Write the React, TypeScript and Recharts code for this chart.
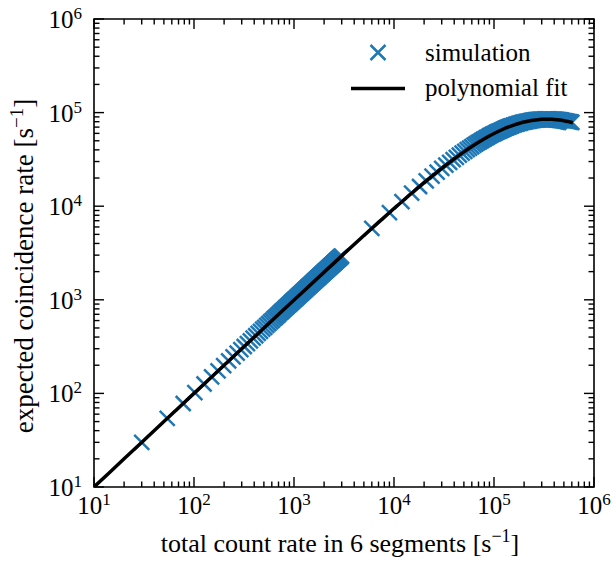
import React from "react";
import { ComposedChart, Scatter, XAxis, YAxis, ReferenceArea } from "recharts";

// simulated points, low-rate run (total rate, coincidences per second)
const simLowX = [
  30, 54, 78, 102, 126, 150, 174, 198, 222, 246, 270, 294, 318, 342, 366, 390, 414, 438, 462, 486,
  510, 534, 558, 582, 606, 630, 654, 678, 702, 726, 750, 774, 798, 822, 846, 870, 894, 918, 942, 966,
  990, 1014, 1038, 1062, 1086, 1110, 1134, 1158, 1182, 1206, 1230, 1254, 1278, 1302, 1326, 1350, 1374,
  1398, 1422, 1446, 1470, 1494, 1518, 1542, 1566, 1590, 1614, 1638, 1662, 1686, 1710, 1734, 1758, 1782,
  1806, 1830, 1854, 1878, 1902, 1926, 1950, 1974, 1998, 2022, 2046, 2070, 2094, 2118, 2142, 2166, 2190,
  2214, 2238, 2262, 2286, 2310, 2334, 2358, 2382, 2406, 2430, 2454, 2478, 2502, 2526, 2550, 2574, 2598,
  2622, 2646, 2670, 2694, 2718, 2742, 2766, 2790, 2814, 2838, 2862, 2886, 2910, 2934, 2958, 2982,
];
const simLowY = [
  30, 54, 78, 102, 126, 150, 174, 198, 222, 246, 270, 293, 317, 341, 365, 389, 413, 437, 461, 485,
  508, 532, 556, 580, 604, 628, 651, 675, 699, 723, 747, 770, 794, 818, 842, 866, 889, 913, 937, 961,
  984, 1008, 1032, 1055, 1079, 1103, 1126, 1150, 1174, 1197, 1221, 1245, 1268, 1292, 1316, 1339, 1363,
  1387, 1410, 1434, 1457, 1481, 1504, 1528, 1552, 1575, 1599, 1622, 1646, 1669, 1693, 1716, 1740, 1763,
  1787, 1810, 1834, 1857, 1881, 1904, 1928, 1951, 1975, 1998, 2021, 2045, 2068, 2092, 2115, 2138, 2162,
  2185, 2209, 2232, 2255, 2279, 2302, 2325, 2349, 2372, 2395, 2419, 2442, 2465, 2488, 2512, 2535, 2558,
  2582, 2605, 2628, 2651, 2675, 2698, 2721, 2744, 2767, 2791, 2814, 2837, 2860, 2883, 2907, 2930,
];

// simulated points, high-rate run
const simHighX = [
  6000, 9000, 12000, 15000, 18000, 21000, 24000, 27000, 30000, 33000, 36000, 39000, 42000, 45000,
  48000, 51000, 54000, 57000, 60000, 63000, 66000, 69000, 72000, 75000, 78000, 81000, 84000, 87000,
  90000, 93000, 96000, 99000, 102000, 105000, 108000, 111000, 114000, 117000, 120000, 123000, 126000,
  129000, 132000, 135000, 138000, 141000, 144000, 147000, 150000,
  156000, 162000, 168000, 174000, 180000, 186000, 192000, 198000, 204000, 210000, 216000, 222000,
  228000, 234000, 240000, 246000, 252000, 258000, 264000, 270000, 276000, 282000, 288000, 294000,
  300000, 306000, 312000, 318000, 324000, 330000, 336000, 342000, 348000, 354000, 360000, 366000,
  372000, 378000, 384000, 390000, 396000, 402000, 408000, 414000, 420000, 426000, 432000, 438000,
  444000, 450000, 456000, 462000, 468000, 474000, 480000,
  492000, 504000, 516000, 528000, 540000, 552000, 564000, 576000, 588000, 600000,
];
const simHighY = [
  5794, 8542, 11196, 13759, 16235, 18628, 20940, 23174, 25332, 27419, 29436, 31387, 33272, 35095,
  36858, 38563, 40212, 41807, 43350, 44843, 46286, 47682, 49034, 50341, 51606, 52830, 54014, 55160,
  56268, 57341, 58379, 59383, 60355, 61296, 62205, 63086, 63937, 64761, 65558, 66328, 67075,
  67796, 68493, 69168, 69820, 70451, 71061, 71650, 72220,
  73302, 74313, 75256, 76135, 76952, 77714, 78422, 79078, 79688, 80251, 80772, 81253,
  81695, 82101, 82473, 82813, 83122, 83402, 83655, 83880, 84082, 84261, 84417, 84553,
  84668, 84765, 84843, 84906, 84950, 84982, 84997, 84998, 84988, 84965, 84931, 84885,
  84829, 84763, 84687, 84602, 84507, 84407, 84298, 84182, 84058, 83928, 83793, 83651,
  83504, 83352, 83195, 83033, 82867, 82697, 82523,
  82163, 81791, 81407, 81013, 80610, 80199, 79781, 79358, 78930, 78497,
];

// polynomial fit curve
const fitX = [
  10, 20, 50, 100, 200, 500, 1000, 2000, 3000, 5000, 7000, 10000, 15000, 20000, 30000, 40000, 50000,
  60000, 70000, 80000, 100000, 120000, 140000, 160000, 180000, 200000, 225000, 250000, 275000, 300000,
  325000, 350000, 375000, 400000, 450000, 500000, 550000, 600000, 615000,
];
const fitY = [
  10, 20, 50, 100, 200, 499, 994, 1977, 2948, 4856, 6720, 9437, 13759, 17839, 25332, 32022, 38001,
  43350, 48138, 52426, 59711, 65558, 70243, 73984, 76952, 79286, 81479, 83022, 84051, 84668,
  84957, 84982, 84815, 84439, 83352, 81916, 80267, 78497, 77951,
];

const decades = [10, 100, 1000, 10000, 100000, 1000000];
const exponents = ["1", "2", "3", "4", "5", "6"];

const simData = [
  ...simLowX.map((x, i) => ({ x, y: simLowY[i] })),
  ...simHighX.map((x, i) => ({ x, y: simHighY[i] })),
];
const fitData = fitX.map((x, i) => ({ x, y: fitY[i] }));

const minorTicks = decades.slice(0, -1).flatMap((d) => [2, 3, 4, 5, 6, 7, 8, 9].map((m) => d * m));
const allTicks = [...decades, ...minorTicks].sort((a, b) => a - b);

const LEFT = 94;
const RIGHT = 594;
const TOP = 19;
const BOTTOM = 487;
const BLUE = "#1f77b4";
const FONT = "'Liberation Serif', 'Times New Roman', serif";

const XTick = (props: any) => {
  const { x, payload } = props;
  const i = decades.indexOf(payload.value);
  const len = i >= 0 ? 10 : 5.5;
  return (
    <g>
      <line x1={x} x2={x} y1={BOTTOM} y2={BOTTOM - len} stroke="#000" strokeWidth={1.4} />
      <line x1={x} x2={x} y1={TOP} y2={TOP + len} stroke="#000" strokeWidth={1.4} />
      {i >= 0 && (
        <text x={x} y={BOTTOM + 27} textAnchor="middle" fontSize={25} fontFamily={FONT} fill="#000">
          10
          <tspan dy={-9} fontSize={17}>{exponents[i]}</tspan>
        </text>
      )}
    </g>
  );
};

const YTick = (props: any) => {
  const { y, payload } = props;
  const i = decades.indexOf(payload.value);
  const len = i >= 0 ? 10 : 5.5;
  return (
    <g>
      <line x1={LEFT} x2={LEFT + len} y1={y} y2={y} stroke="#000" strokeWidth={1.4} />
      <line x1={RIGHT} x2={RIGHT - len} y1={y} y2={y} stroke="#000" strokeWidth={1.4} />
      {i >= 0 && (
        <text x={82} y={y + 9} textAnchor="end" fontSize={25} fontFamily={FONT} fill="#000">
          10
          <tspan dy={-9} fontSize={17}>{exponents[i]}</tspan>
        </text>
      )}
    </g>
  );
};

// matplotlib style "x" marker
const XMark = (props: any) => {
  const { cx, cy } = props;
  const r = 7.5;
  return (
    <path
      d={`M${cx - r},${cy - r}L${cx + r},${cy + r}M${cx - r},${cy + r}L${cx + r},${cy - r}`}
      stroke={BLUE}
      strokeWidth={2.5}
      fill="none"
    />
  );
};

const NoMark = () => <g />;

export default function App() {
  return (
    <div style={{ position: "absolute", left: 0, top: 0, width: 612, height: 561, background: "#fff" }}>
      <ComposedChart width={612} height={561} margin={{ top: TOP, right: 612 - RIGHT, bottom: 0, left: 0 }}>
        <XAxis
          dataKey="x"
          type="number"
          scale="log"
          domain={[10, 1000000]}
          allowDataOverflow
          ticks={allTicks}
          interval={0}
          tick={XTick}
          tickLine={false}
          axisLine={false}
          tickSize={0}
          height={561 - BOTTOM}
        />
        <YAxis
          dataKey="y"
          type="number"
          scale="log"
          domain={[10, 1000000]}
          allowDataOverflow
          ticks={allTicks}
          interval={0}
          tick={YTick}
          tickLine={false}
          axisLine={false}
          tickSize={0}
          width={LEFT}
        />
        <Scatter data={simData} dataKey="y" shape={XMark} isAnimationActive={false} />
        <Scatter
          data={fitData}
          dataKey="y"
          shape={NoMark}
          fill="#000"
          line={{ stroke: "#000", strokeWidth: 3.5 }}
          lineJointType="monotoneX"
          isAnimationActive={false}
        />
        <ReferenceArea x1={10} x2={1000000} y1={10} y2={1000000} fill="none" stroke="#000" strokeWidth={1.6} />
      </ComposedChart>
      <svg width={612} height={561} style={{ position: "absolute", left: 0, top: 0, pointerEvents: "none" }}>
        <g fontFamily={FONT} fill="#000">
          <text x={340} y={552} textAnchor="middle" fontSize={26}>
            total count rate in 6 segments [s
            <tspan dy={-10} fontSize={18}>−1</tspan>
            <tspan dy={10}>]</tspan>
          </text>
          <text x={33} y={266} textAnchor="middle" fontSize={27} transform="rotate(-90 33 266)">
            expected coincidence rate [s
            <tspan dy={-10} fontSize={19}>−1</tspan>
            <tspan dy={10}>]</tspan>
          </text>
          <path d="M370.5,45L385.5,60M370.5,60L385.5,45" stroke={BLUE} strokeWidth={2.5} fill="none" />
          <text x={425} y={61} fontSize={25}>simulation</text>
          <line x1={351} x2={405} y1={88.5} y2={88.5} stroke="#000" strokeWidth={3.5} />
          <text x={425} y={96} fontSize={25}>polynomial fit</text>
        </g>
      </svg>
    </div>
  );
}
